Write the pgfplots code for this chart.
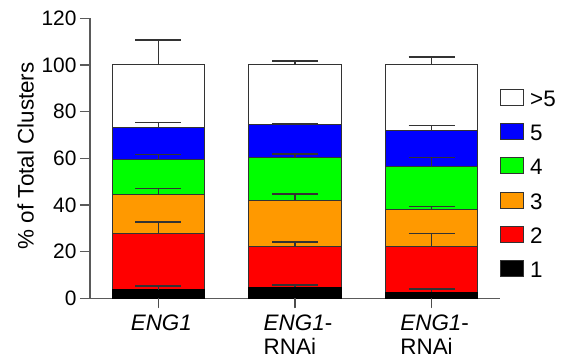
\documentclass[border=0pt]{standalone}
\usepackage{pgfplots}
\usepackage{pgfplotstable}
\pgfplotsset{compat=1.18}
\usepackage{fontspec}
\setmainfont{Liberation Sans}
\definecolor{cblue}{HTML}{0000FF}
\definecolor{cgreen}{HTML}{00FF00}
\definecolor{corange}{HTML}{FF9900}
\definecolor{cred}{HTML}{FF0000}
\definecolor{axgray}{HTML}{5A5A5A}

% segment heights (stacked)
\pgfplotstableread{
x s1 s2 s3 s4 s5 s6
0 3.6 24.3 16.4 15.1 13.9 26.7
1 4.7 17.4 19.8 18.4 14.3 25.4
2 2.7 19.7 15.7 18.3 15.3 28.3
}\bars

% cumulative segment tops and upward errors
\pgfplotstableread{
x y e
0 3.6 1.8
0 27.9 4.8
0 44.3 2.7
0 59.4 2.2
0 73.3 2.0
0 100 10.7
1 4.7 1.0
1 22.1 1.9
1 41.9 2.7
1 60.3 1.5
1 74.6 0.3
1 100 1.6
2 2.7 1.2
2 22.4 5.3
2 38.1 1.2
2 56.4 3.9
2 71.7 2.3
2 100 3.3
}\errs

\pgfplotsset{
  base/.style={scale only axis, width=410bp, height=280bp,
    xmin=-0.5, xmax=2.5, ymin=0, ymax=120, at={(0,0)}, anchor=south west},
  myleg/.style={legend image code/.code={\draw[##1, line width=1bp, draw=black!80] (0bp,-3.5bp) rectangle (23bp,12.5bp);}},
}

\begin{document}
\begin{tikzpicture}
\useasboundingbox (-90bp,-63.7bp) rectangle (479bp,298.3bp);
\begin{axis}[base,
  ybar stacked, bar width=92bp,
  axis x line*=bottom, axis y line*=left,
  axis line style={axgray, line width=1.4bp},
  tick style={axgray, line width=1.4bp},
  tick align=outside, major tick length=10bp,
  ytick={0,20,...,120}, xtick={0,1,2},
  xticklabels={\textit{ENG1}, {\textit{ENG1}-\\RNAi}, {\textit{ENG1}-\\RNAi}},
  /pgf/number format/assume math mode=true,
  yticklabel style={font=\fontsize{21}{24}\selectfont},
  xticklabel style={font=\fontsize{22.5}{24}\selectfont, align=left, inner sep=0pt, yshift=-6bp, xshift=3bp},
  ylabel={\% of Total Clusters},
  every axis y label/.style={at={(axis description cs:0,0.509)}, xshift=-56bp, rotate=90, anchor=south, inner sep=0pt, font=\fontsize{22.5}{24}\selectfont},
  reverse legend,
  legend cell align=left,
  legend style={draw=none, fill=none, at={(rel axis cs:1,0.405)}, anchor=west, inner sep=0pt,
    row sep=13.2bp, column sep=6bp, font=\fontsize{22.5}{24}\selectfont,
    nodes={inner sep=0pt, text height=12.5bp, text depth=3.5bp}},
]
\addplot+[myleg, fill=black, draw=black, line width=1bp] table[x=x, y=s1] {\bars};
\addlegendentry{1}
\addplot+[myleg, fill=cred, draw=black!80, line width=1bp] table[x=x, y=s2] {\bars};
\addlegendentry{2}
\addplot+[myleg, fill=corange, draw=black!80, line width=1bp] table[x=x, y=s3] {\bars};
\addlegendentry{3}
\addplot+[myleg, fill=cgreen, draw=black!80, line width=1bp] table[x=x, y=s4] {\bars};
\addlegendentry{4}
\addplot+[myleg, fill=cblue, draw=black!80, line width=1bp] table[x=x, y=s5] {\bars};
\addlegendentry{5}
\addplot+[myleg, fill=white, draw=black!80, line width=1bp] table[x=x, y=s6] {\bars};
\addlegendentry{>5}
\end{axis}
\begin{axis}[base, hide axis, clip=false]
\addplot[draw=none, mark=none,
  error bars/.cd, y dir=plus, y explicit,
  error bar style={draw=black!80, line width=1.6bp},
  error mark options={rotate=90, draw=black!80, line width=1.6bp, mark size=23bp}]
  table[x=x, y=y, y error=e] {\errs};
% axis decoration: category tick marks below the x axis
\foreach \k in {0,1,2} {
  \edef\temp{\noexpand\draw[black!70, line width=1.5bp] (axis cs:\k,0) -- ++(0bp,-8.5bp);}
  \temp
}
\end{axis}
\end{tikzpicture}
\end{document}
